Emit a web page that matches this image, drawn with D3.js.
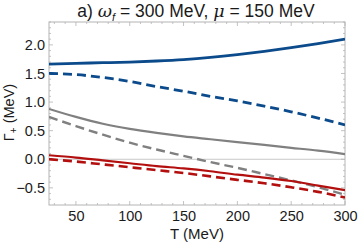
<!DOCTYPE html>
<html><head><meta charset="utf-8">
<script src="https://cdn.jsdelivr.net/npm/d3@7"></script>
<style>body{margin:0;background:#fff}svg{display:block;font-family:"Liberation Sans",Arial,sans-serif}</style>
</head><body><svg id="c" width="359" height="242"></svg>
<script>
const T = [25, 50, 75, 100, 125, 150, 175, 200, 225, 250, 275, 300];
const blueSolid  = [1.665, 1.678, 1.688, 1.70, 1.718, 1.743, 1.78, 1.828, 1.885, 1.95, 2.022, 2.10];
const blueDashed = [1.50, 1.48, 1.43, 1.36, 1.27, 1.19, 1.10, 1.02, 0.93, 0.83, 0.72, 0.60];
const graySolid  = [0.88, 0.74, 0.62, 0.53, 0.46, 0.40, 0.35, 0.30, 0.25, 0.20, 0.15, 0.09];
const grayDashed = [0.74, 0.58, 0.43, 0.29, 0.17, 0.06, -0.05, -0.15, -0.26, -0.37, -0.49, -0.62];
const redSolid   = [0.07, 0.03, -0.02, -0.07, -0.12, -0.16, -0.21, -0.27, -0.32, -0.38, -0.46, -0.54];
const redDashed  = [0.0, -0.04, -0.09, -0.14, -0.19, -0.24, -0.30, -0.36, -0.42, -0.49, -0.57, -0.67];
const xTicks = [50, 100, 150, 200, 250, 300];
const yTicks = [-0.5, 0.0, 0.5, 1.0, 1.5, 2.0];

const svg = d3.select("#c");
const L = 49, R = 345, Tp = 22, B = 205;
const x = d3.scaleLinear().domain([25, 300]).range([L, R]);
const y = d3.scaleLinear().domain([-0.8, 2.4]).range([B, Tp]);
const frame = "#b4b4b4";
const FONT = "Liberation Sans, Arial, sans-serif";

svg.append("line").attr("x1", L).attr("x2", R).attr("y1", y(0)).attr("y2", y(0))
  .attr("stroke", "#c8c8c8").attr("stroke-width", 1);

svg.append("rect").attr("x", L).attr("y", Tp).attr("width", R - L).attr("height", B - Tp)
  .attr("fill", "none").attr("stroke", frame).attr("stroke-width", 1);

const xMinor = d3.range(30, 301, 10);
const yMinor = d3.range(-0.7, 2.41, 0.1).map(v => +v.toFixed(2));
const tg = svg.append("g").attr("stroke", frame).attr("stroke-width", 0.8);
xMinor.forEach(v => {
  const maj = v % 50 === 0, len = maj ? 4 : 2;
  tg.append("line").attr("x1", x(v)).attr("x2", x(v)).attr("y1", B).attr("y2", B - len);
  tg.append("line").attr("x1", x(v)).attr("x2", x(v)).attr("y1", Tp).attr("y2", Tp + len);
});
yMinor.forEach(v => {
  const maj = Math.abs(Math.round(v * 2) - v * 2) < 1e-6, len = maj ? 4 : 2;
  tg.append("line").attr("y1", y(v)).attr("y2", y(v)).attr("x1", L).attr("x2", L + len);
  tg.append("line").attr("y1", y(v)).attr("y2", y(v)).attr("x1", R).attr("x2", R - len);
});

const xa = svg.append("g").attr("transform", `translate(0,${B})`)
  .call(d3.axisBottom(x).tickValues(xTicks).tickSize(0).tickPadding(6).tickFormat(d3.format("d")));
xa.select(".domain").remove();
xa.selectAll("text").attr("font-size", 14.5).attr("fill", "#1a1a1a").attr("font-family", FONT);
const ya = svg.append("g").attr("transform", `translate(${L},0)`)
  .call(d3.axisLeft(y).tickValues(yTicks).tickSize(0).tickPadding(4).tickFormat(d => d3.format(".1f")(d).replace("-", "\u2212")));
ya.select(".domain").remove();
ya.selectAll("text").attr("font-size", 14.5).attr("fill", "#1a1a1a").attr("font-family", FONT);

const line = d3.line().x((d, i) => x(T[i])).y(d => y(d)).curve(d3.curveMonotoneX);
svg.append("clipPath").attr("id", "cp").append("rect")
  .attr("x", L).attr("y", Tp).attr("width", R - L).attr("height", B - Tp);
const series = [
  [blueSolid, "#0b4a8b", 2.8, null],
  [blueDashed, "#0b4a8b", 2.8, "9,5"],
  [graySolid, "#808080", 2.2, null],
  [grayDashed, "#808080", 2.4, "9,5"],
  [redSolid, "#b30f0f", 2.2, null],
  [redDashed, "#b30f0f", 2.6, "9,5"]
];
series.forEach(([vals, col, w, dash]) => {
  const p = svg.append("path").attr("d", line(vals)).attr("fill", "none")
    .attr("stroke", col).attr("stroke-width", w).attr("clip-path", "url(#cp)");
  if (dash) p.attr("stroke-dasharray", dash);
});

const title = svg.append("text").attr("x", 196).attr("y", 17).attr("text-anchor", "middle")
  .attr("font-size", 17.5).attr("fill", "#1a1a1a").attr("font-family", FONT);
title.append("tspan").text("a) ");
title.append("tspan").attr("font-style", "italic").attr("font-family", "DejaVu Serif, serif").text("ω");
title.append("tspan").attr("font-style", "italic").attr("font-size", 11).attr("dy", 4).text("f");
title.append("tspan").attr("dy", -4).text(" = 300 MeV, ");
title.append("tspan").attr("font-style", "italic").attr("font-family", "DejaVu Serif, serif").text("μ");
title.append("tspan").text(" = 150 MeV");

svg.append("text").attr("x", 197).attr("y", 239).attr("text-anchor", "middle")
  .attr("font-size", 15).attr("fill", "#1a1a1a").attr("font-family", FONT).text("T (MeV)");

const yl = svg.append("text").attr("transform", `translate(14,${(Tp + B) / 2 - 1}) rotate(-90)`)
  .attr("text-anchor", "middle").attr("font-size", 14.5).attr("fill", "#1a1a1a").attr("font-family", FONT);
yl.append("tspan").text("Γ");
yl.append("tspan").attr("font-size", 10).attr("dy", 3).text("+");
yl.append("tspan").attr("dy", -3).text(" (MeV)");
</script></body></html>
